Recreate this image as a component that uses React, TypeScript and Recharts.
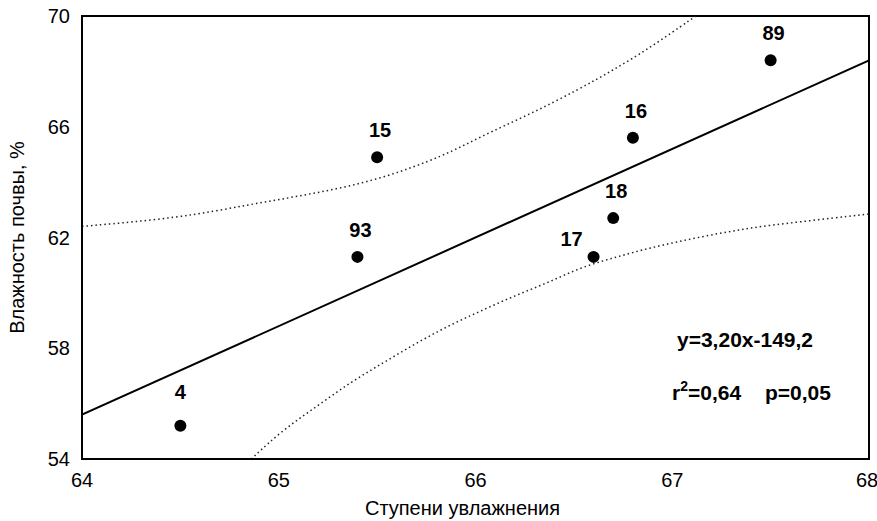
import React from 'react';
import {
  ComposedChart,
  Line,
  Scatter,
  XAxis,
  YAxis,
  ReferenceArea,
  Customized,
} from 'recharts';

// Sample plots: id, moisture step, soil moisture (%)
const plotIds = ['4', '93', '15', '17', '18', '16', '89'];
const moistureSteps = [64.5, 65.4, 65.5, 66.6, 66.7, 66.8, 67.5];
const soilMoisture = [55.2, 61.3, 64.9, 61.3, 62.7, 65.6, 68.4];

// Regression y = 3,20x - 149,2 at the ends of the axis
const fitX = [64, 68];
const fitY = [55.6, 68.4];

// Upper and lower confidence bands
const upperBandX = [64.0, 64.5, 64.84, 65.17, 65.51, 65.85, 66.02, 66.27, 66.52, 66.7, 66.87, 67.12];
const upperBandY = [62.4, 62.71, 63.18, 63.57, 64.08, 64.98, 65.63, 66.43, 67.33, 68.05, 68.77, 70.0];
const lowerBandX = [64.86, 65.02, 65.19, 65.36, 65.53, 65.7, 65.87, 66.04, 66.21, 66.38, 66.54, 66.72, 66.88, 67.14, 67.39, 67.64, 68.0];
const lowerBandY = [54.0, 55.05, 55.88, 56.75, 57.47, 58.19, 58.84, 59.39, 59.93, 60.4, 60.94, 61.3, 61.62, 62.02, 62.35, 62.56, 62.85];

const xTicks = [64, 65, 66, 67, 68];
const yTicks = [54, 58, 62, 66, 70];

const points = plotIds.map((id, i) => ({ id, x: moistureSteps[i], y: soilMoisture[i] }));
const fitLine = fitX.map((x, i) => ({ x, y: fitY[i] }));
const upperBand = upperBandX.map((x, i) => ({ x, y: upperBandY[i] }));
const lowerBand = lowerBandX.map((x, i) => ({ x, y: lowerBandY[i] }));

const FONT = '"Liberation Sans", Arial, Helvetica, sans-serif';

// a couple of labels sit off-centre to avoid the lines
const labelShift: Record<string, [number, number]> = {
  '4': [0, -27],
  '17': [-22, -11],
};

function PlotDot(props: any) {
  const { cx, cy, payload } = props;
  const [dx, dy] = labelShift[payload.id] ?? [3, -20];
  return (
    <g>
      <circle cx={cx} cy={cy} r={6} fill="#000" />
      <text
        x={cx + dx}
        y={cy + dy}
        textAnchor="middle"
        fontFamily={FONT}
        fontWeight="bold"
        fontSize={20}
        fill="#000"
      >
        {payload.id}
      </text>
    </g>
  );
}

function Stats() {
  return (
    <g fontFamily={FONT} fontWeight="bold" fontSize={21} fill="#000">
      <text x={677} y={347}>y=3,20x-149,2</text>
      <text x={672} y={400}>
        r<tspan dy={-9} fontSize={14}>2</tspan>
        <tspan dy={9}>=0,64</tspan>
      </text>
      <text x={765} y={400}>p=0,05</text>
    </g>
  );
}

export default function App() {
  return (
    <div style={{ position: 'absolute', left: 0, top: 0, background: '#fff' }}>
      <ComposedChart
        width={877}
        height={521}
        margin={{ top: 16, right: 8, bottom: 0, left: 0 }}
      >
        <XAxis
          dataKey="x"
          type="number"
          domain={[64, 68]}
          ticks={xTicks}
          allowDataOverflow
          height={62}
          tickLine={false}
          tickMargin={8}
          axisLine={{ stroke: '#000', strokeWidth: 2 }}
          tick={{ fill: '#000', fontSize: 20, fontFamily: FONT }}
          label={{
            value: 'Ступени увлажнения',
            position: 'insideBottom',
            offset: 6,
            dx: -13,
            fill: '#000',
            fontSize: 20,
            fontFamily: FONT,
          }}
        />
        <YAxis
          dataKey="y"
          type="number"
          domain={[54, 70]}
          ticks={yTicks}
          allowDataOverflow
          width={82}
          tickLine={false}
          tickMargin={6}
          axisLine={{ stroke: '#000', strokeWidth: 2 }}
          tick={{ fill: '#000', fontSize: 20, fontFamily: FONT }}
          label={{
            value: 'Влажность почвы, %',
            angle: -90,
            position: 'insideLeft',
            offset: 17,
            style: { textAnchor: 'middle' },
            fill: '#000',
            fontSize: 20,
            fontFamily: FONT,
          }}
        />
        <ReferenceArea
          x1={64}
          x2={68}
          y1={54}
          y2={70}
          stroke="#000"
          strokeWidth={2}
          fill="none"
          fillOpacity={0}
        />
        <Line
          data={upperBand}
          dataKey="y"
          type="basis"
          stroke="#222"
          strokeWidth={1.5}
          strokeDasharray="1.5 3"
          dot={false}
          isAnimationActive={false}
        />
        <Line
          data={lowerBand}
          dataKey="y"
          type="basis"
          stroke="#222"
          strokeWidth={1.5}
          strokeDasharray="1.5 3"
          dot={false}
          isAnimationActive={false}
        />
        <Line
          data={fitLine}
          dataKey="y"
          type="linear"
          stroke="#000"
          strokeWidth={2}
          dot={false}
          isAnimationActive={false}
        />
        <Scatter data={points} dataKey="y" shape={<PlotDot />} isAnimationActive={false} />
        <Customized component={Stats} />
      </ComposedChart>
    </div>
  );
}
